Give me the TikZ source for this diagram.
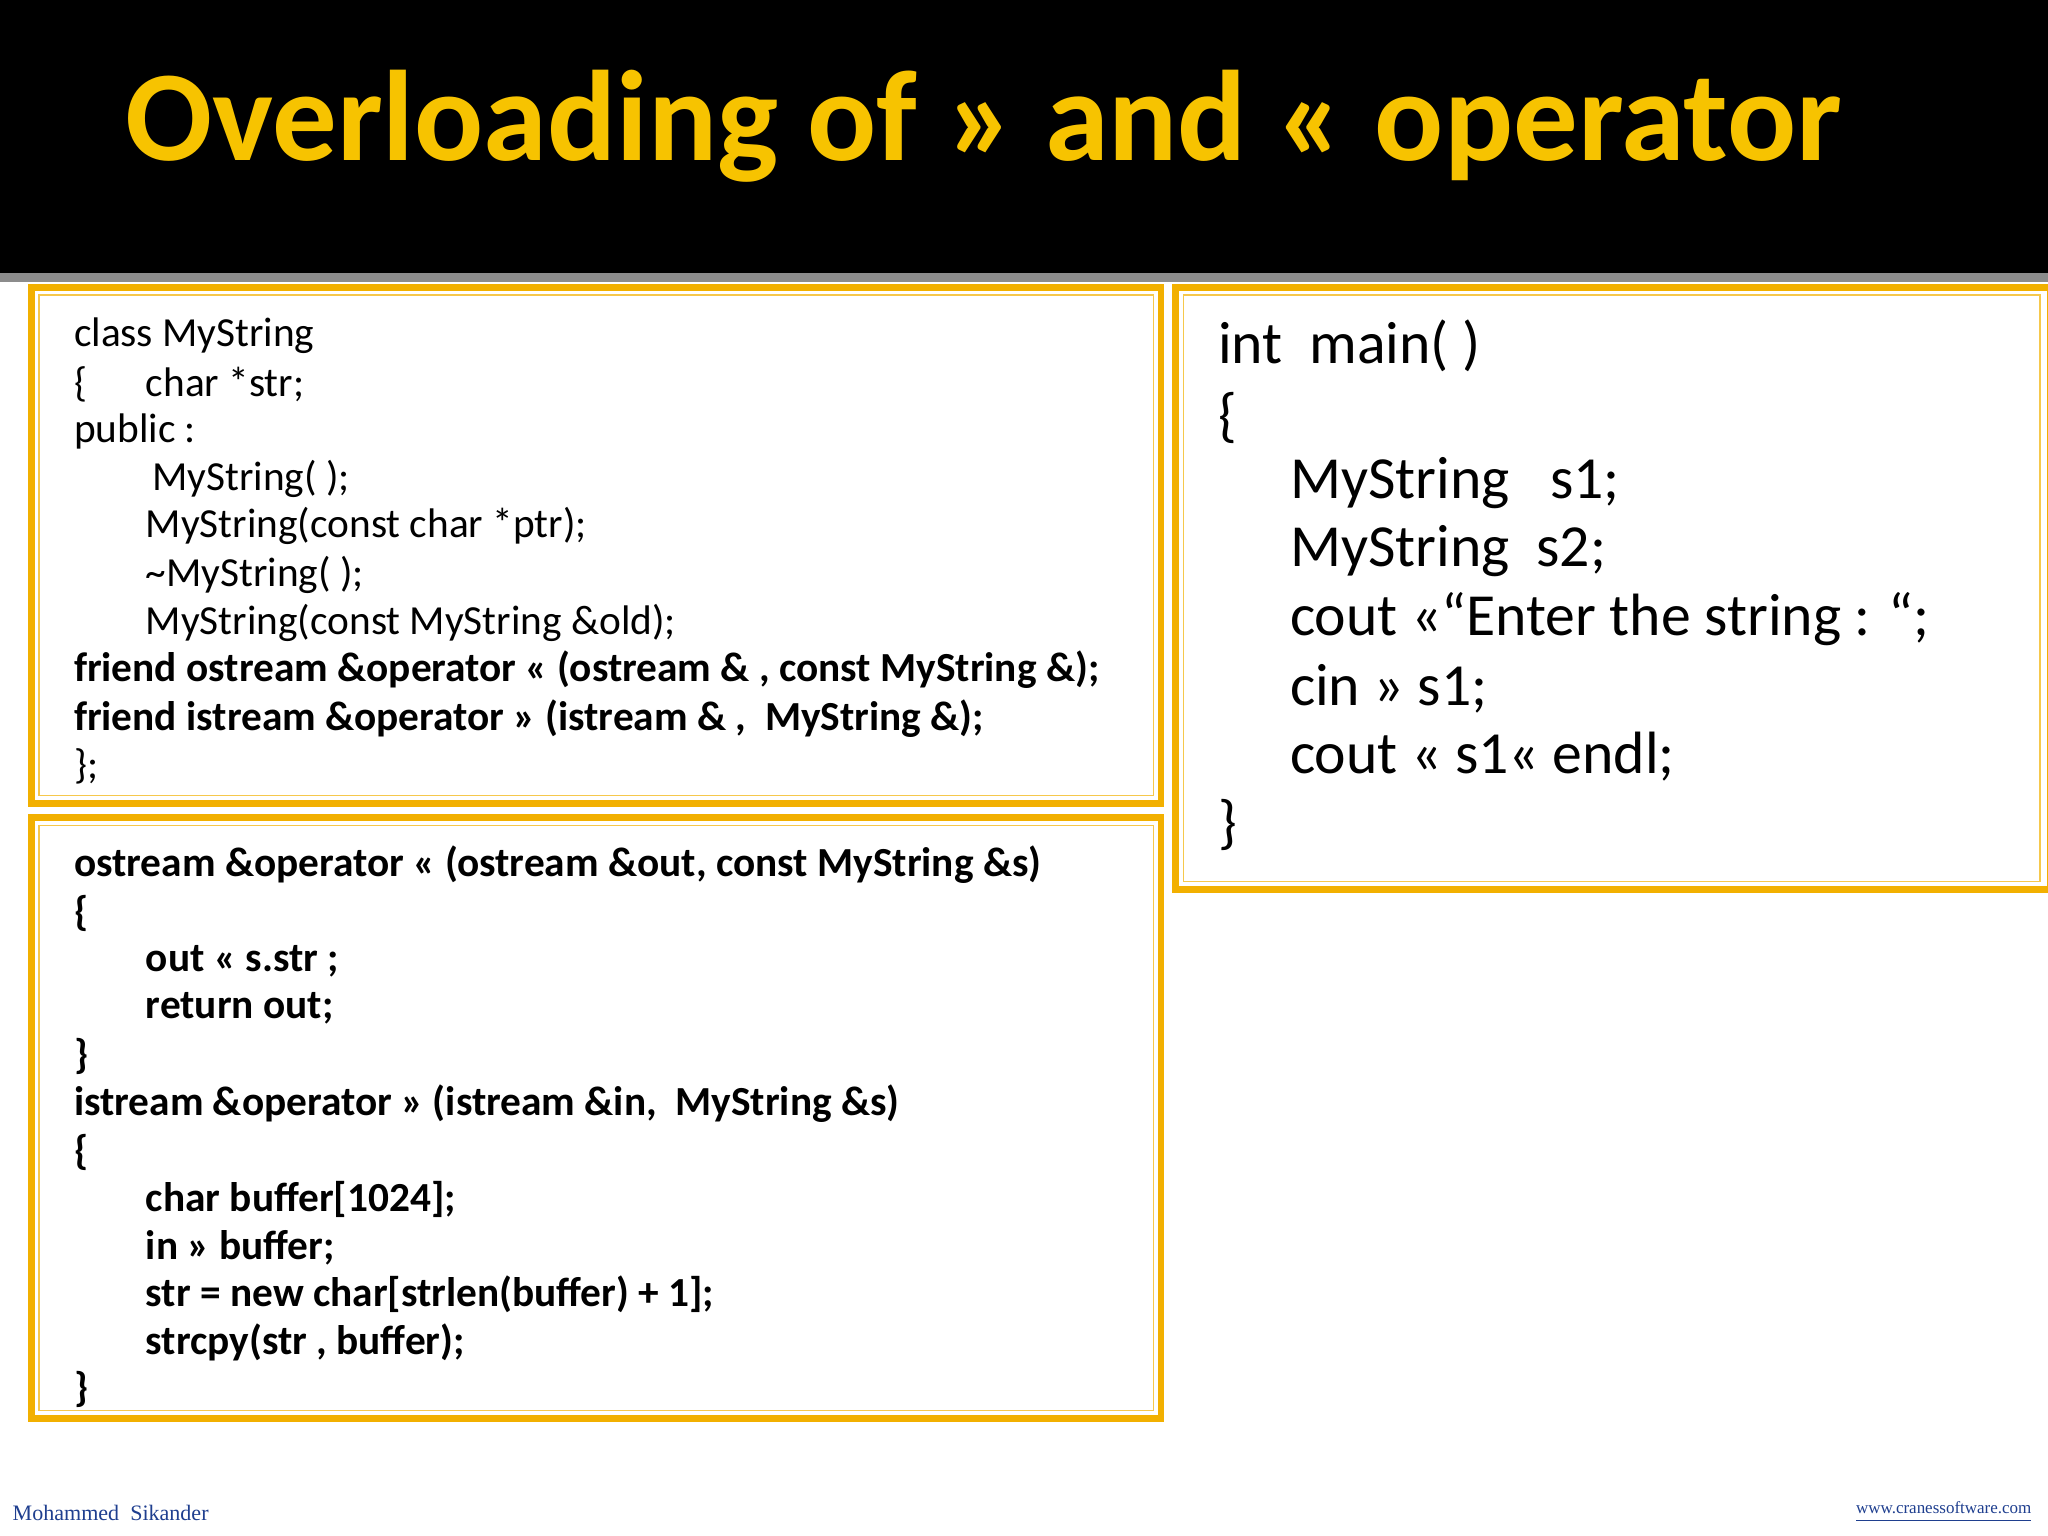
\documentclass[tikz,border=0pt]{standalone}
\usepackage{fontspec}
\setmainfont{Carlito}[Ligatures=ResetAll]
\newfontfamily\timesf{Liberation Serif}
\definecolor{gold}{HTML}{F2B000}
\definecolor{titleg}{HTML}{F7C300}
\definecolor{footblue}{HTML}{1F3F8F}
\begin{document}
\begin{tikzpicture}[x=0.01cm,y=-0.01cm,
  codeS/.style={anchor=west,inner sep=0pt,font=\fontsize{9pt}{11pt}\selectfont},
  codeB/.style={codeS,font=\fontsize{9pt}{11pt}\selectfont\bfseries},
  codeR/.style={anchor=west,inner sep=0pt,font=\fontsize{13pt}{16pt}\selectfont},
  boxo/.style={draw=gold,line width=0.05cm,fill=white},
  boxi/.style={draw=gold!70,line width=0.012cm}]
\useasboundingbox (0,0) rectangle (1568,1176);
\fill[white] (0,0) rectangle (1568,1176);
\fill[black!45] (0,209) rectangle (1568,216);
\fill[black] (0,0) rectangle (1568,209);
\node[text=titleg,inner sep=0pt,font=\bfseries] (title) at (753,97) {\resizebox{13.13cm}{!}{Overloading of >> and << operator}};
% boxes
\draw[boxo] (24,220) rectangle (889,615);
\draw[boxi] (30,226) rectangle (883,609);
\draw[boxo] (24,626) rectangle (889,1086);
\draw[boxi] (30,632) rectangle (883,1080);
\draw[boxo] (900,220) rectangle (1570,681);
\draw[boxi] (906,226) rectangle (1562,675);
% left top
\node[codeS] (a1) at (56,257) {class MyString};
\node[codeS] (a2) at (56,294) {\{};
\node[codeS] (a2b) at (111,294) {char *str;};
\node[codeS] (a3) at (56,330) {public :};
\node[codeS] (a4) at (116,367) {MyString( );};
\node[codeS] (a5) at (111,403) {MyString(const char *ptr);};
\node[codeS] (a6) at (111,440) {\textasciitilde MyString( );};
\node[codeS] (a7) at (111,477) {MyString(const MyString \&old);};
\node[codeB] (a8) at (56,513) {friend ostream \&operator << (ostream \& , const MyString \&);};
\node[codeB] (a9) at (56,550) {friend istream \&operator >> (istream \& ,\ \ MyString \&);};
\node[codeS] (a10) at (56,587) {\};};
% left bottom
\node[codeB] (b1) at (56,662) {ostream \&operator << (ostream \&out, const MyString \&s)};
\node[codeB] (b2) at (56,699) {\{};
\node[codeB] (b3) at (111,736) {out << s.str ;};
\node[codeB] (b4) at (111,772) {return out;};
\node[codeB] (b5) at (56,809) {\}};
\node[codeB] (b6) at (56,845) {istream \&operator >> (istream \&in,\ \ MyString \&s)};
\node[codeB] (b7) at (56,882) {\{};
\node[codeB] (b8) at (111,918) {char buffer[1024];};
\node[codeB] (b9) at (111,955) {in >> buffer;};
\node[codeB] (b10) at (111,991) {str = new char[strlen(buffer) + 1];};
\node[codeB] (b11) at (111,1028) {strcpy(str , buffer);};
\node[codeB] (b12) at (56,1064) {\}};
% right
\node[codeR] (c1) at (932,265) {int\ \ main( )};
\node[codeR] (c2) at (932,320) {\{};
\node[codeR] (c3) at (987,370) {MyString\ \ \ s1;};
\node[codeR] (c4) at (987,422) {MyString\ \ s2;};
\node[codeR] (c5) at (987,474) {cout <<“Enter the string : “;};
\node[codeR] (c6) at (987,527) {cin >> s1;};
\node[codeR] (c7) at (987,579) {cout << s1<< endl;};
\node[codeR] (c8) at (932,632) {\}};
% footer
\node[anchor=west,inner sep=0pt,text=footblue,font=\timesf\fontsize{4.8pt}{6pt}\selectfont] (f1) at (9,1158) {Mohammed\ \ Sikander};
\node[anchor=east,inner sep=0pt,text=footblue,font=\timesf\fontsize{3.7pt}{5pt}\selectfont] (f2) at (1556,1158) {\underline{www.cranessoftware.com}};
\end{tikzpicture}
\end{document}
